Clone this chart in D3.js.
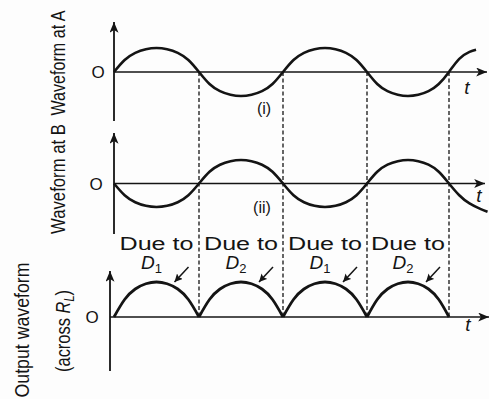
<!DOCTYPE html>
<html>
  <head>
    <title>Full-wave rectifier waveforms</title>
    <style>
      body,
      html {
        margin: 0;
        padding: 0;
        background: #fff;
      }
      svg {
        display: block;
        font-family: 'Liberation Sans', Arial, sans-serif;
      }
    </style>
  </head>
  <body>
    <svg id="svg" width="489" height="399"></svg>

    <script src="https://cdn.jsdelivr.net/npm/d3@7"></script>
    <script>
      // time is counted in half-cycles of the supply, values are relative to the peak
      const crossings = [0, 1, 2, 3, 4];
      const waveA = [
        [0, 0], [0.125, 0.5], [0.25, 0.8], [0.375, 0.95], [0.5, 1], [0.625, 0.95], [0.75, 0.8], [0.875, 0.5],
        [1, 0], [1.125, -0.5], [1.25, -0.8], [1.375, -0.95], [1.5, -1], [1.625, -0.95], [1.75, -0.8], [1.875, -0.5],
        [2, 0], [2.125, 0.5], [2.25, 0.8], [2.375, 0.95], [2.5, 1], [2.625, 0.95], [2.75, 0.8], [2.875, 0.5],
        [3, 0], [3.125, -0.5], [3.25, -0.8], [3.375, -0.95], [3.5, -1], [3.625, -0.95], [3.75, -0.8], [3.875, -0.5],
        [4, 0], [4.125, 0.55], [4.25, 0.84], [4.33, 0.93]
      ];
      const waveB = [
        [0, 0], [0.125, -0.5], [0.25, -0.8], [0.375, -0.95], [0.5, -1], [0.625, -0.95], [0.75, -0.8], [0.875, -0.5],
        [1, 0], [1.125, 0.5], [1.25, 0.8], [1.375, 0.95], [1.5, 1], [1.625, 0.95], [1.75, 0.8], [1.875, 0.5],
        [2, 0], [2.125, -0.5], [2.25, -0.8], [2.375, -0.95], [2.5, -1], [2.625, -0.95], [2.75, -0.8], [2.875, -0.5],
        [3, 0], [3.125, 0.5], [3.25, 0.8], [3.375, 0.95], [3.5, 1], [3.625, 0.95], [3.75, 0.8], [3.875, 0.5],
        [4, 0], [4.125, -0.5], [4.25, -0.85], [4.375, -1.07], [4.47, -1.2]
      ];
      // one rectified half-cycle
      const hump = [[0, 0], [0.125, 0.5], [0.25, 0.8], [0.375, 0.95], [0.5, 1], [0.625, 0.95], [0.75, 0.8], [0.875, 0.5], [1, 0]];
      const outputPeaks = [1, 1, 1, 1];
      const diodes = ['1', '2', '1', '2'];
      const panelNames = ['Waveform at A', 'Waveform at B'];
      const panelTags = ['(i)', '(ii)'];

      const ink = '#141414';
      const svg = d3.select('#svg');
      svg.append('rect').attr('width', 489).attr('height', 399).attr('fill', '#fdfdfd');

      const defs = svg.append('defs');
      defs
        .append('marker')
        .attr('id', 'axisHead')
        .attr('markerUnits', 'userSpaceOnUse')
        .attr('viewBox', '0 0 12 10')
        .attr('refX', 12)
        .attr('refY', 5)
        .attr('markerWidth', 12)
        .attr('markerHeight', 9)
        .attr('orient', 'auto')
        .append('path')
        .attr('d', 'M0,0 L12,5 L0,10 L3,5 Z')
        .attr('fill', ink);
      defs
        .append('marker')
        .attr('id', 'smallHead')
        .attr('markerUnits', 'userSpaceOnUse')
        .attr('viewBox', '0 0 10 10')
        .attr('refX', 10)
        .attr('refY', 5)
        .attr('markerWidth', 8)
        .attr('markerHeight', 8)
        .attr('orient', 'auto')
        .append('path')
        .attr('d', 'M0,0 L10,5 L0,10 L2,5 Z')
        .attr('fill', ink);

      const xScale = d3.scaleLinear().domain(crossings).range([114, 199, 283, 367, 449]);
      const yA = d3.scaleLinear().domain([-1, 1]).range([96, 48]);
      const yB = d3.scaleLinear().domain([-1, 1]).range([207, 160]);
      const yC = d3.scaleLinear().domain([0, 1]).range([317, 282]);

      const lineFor = (y) =>
        d3
          .line()
          .x((d) => xScale(d[0]))
          .y((d) => y(d[1]))
          .curve(d3.curveNatural);

      const drawAxes = (x0, y0, yTop, yBottom, xEnd) => {
        svg
          .append('line')
          .attr('x1', x0)
          .attr('x2', x0)
          .attr('y1', yBottom)
          .attr('y2', yTop)
          .attr('stroke', ink)
          .attr('stroke-width', 1.8)
          .attr('marker-end', 'url(#axisHead)');
        svg
          .append('line')
          .attr('x1', x0)
          .attr('x2', xEnd)
          .attr('y1', y0)
          .attr('y2', y0)
          .attr('stroke', ink)
          .attr('stroke-width', 1.6)
          .attr('marker-end', 'url(#axisHead)');
      };

      // dashed guides through the zero crossings
      svg
        .append('g')
        .selectAll('line')
        .data(crossings.slice(1))
        .join('line')
        .attr('x1', (d) => xScale(d))
        .attr('x2', (d) => xScale(d))
        .attr('y1', yA(0))
        .attr('y2', yC(0))
        .attr('stroke', ink)
        .attr('stroke-width', 1.3)
        .attr('stroke-dasharray', '4,2.5');

      drawAxes(xScale(0), yA(0), 22, 121, 487);
      drawAxes(xScale(0), yB(0), 133, 234, 485);
      drawAxes(xScale(0) - 4, yC(0), 271, 371, 489);

      svg
        .append('path')
        .attr('d', lineFor(yA)(waveA))
        .attr('fill', 'none')
        .attr('stroke', ink)
        .attr('stroke-width', 2.6);
      svg
        .append('path')
        .attr('d', lineFor(yB)(waveB))
        .attr('fill', 'none')
        .attr('stroke', ink)
        .attr('stroke-width', 2.6);

      svg
        .append('g')
        .selectAll('path')
        .data(outputPeaks)
        .join('path')
        .attr('d', (p, i) => lineFor(yC)(hump.map((h) => [i + h[0], p * h[1]])))
        .attr('fill', 'none')
        .attr('stroke', ink)
        .attr('stroke-width', 2.8);

      // origin and time labels
      const small = (x, y, txt, size, italic) =>
        svg
          .append('text')
          .attr('x', x)
          .attr('y', y)
          .attr('text-anchor', 'middle')
          .attr('font-size', size)
          .attr('font-style', italic ? 'italic' : 'normal')
          .attr('fill', ink)
          .text(txt);

      small(98, yA(0) + 6, 'O', 17);
      small(96, yB(0) + 6, 'O', 17);
      small(92, yC(0) + 6, 'O', 17);
      small(467, 94, 't', 19, true);
      small(479, 202, 't', 19, true);
      small(468, 331, 't', 19, true);
      small(264, 114, panelTags[0], 16);
      small(262, 213, panelTags[1], 16);

      // "Due to" annotations
      const notes = svg.append('g').selectAll('g').data(diodes).join('g');
      notes
        .append('text')
        .attr('x', (d, i) => xScale(i + 0.5))
        .attr('y', 250)
        .attr('text-anchor', 'middle')
        .attr('font-size', 18)
        .attr('textLength', 74)
        .attr('lengthAdjust', 'spacingAndGlyphs')
        .attr('fill', ink)
        .text('Due to');
      const dl = notes
        .append('text')
        .attr('x', (d, i) => xScale(i + 0.5) - 5)
        .attr('y', 269)
        .attr('text-anchor', 'middle')
        .attr('font-size', 19)
        .attr('fill', ink);
      dl.append('tspan').attr('font-style', 'italic').text('D');
      dl.append('tspan').attr('font-size', 13).attr('dy', 4).text((d) => d);
      notes
        .append('line')
        .attr('x1', (d, i) => xScale(i + 0.5) + 32)
        .attr('y1', 267)
        .attr('x2', (d, i) => xScale(i + 0.5) + 18)
        .attr('y2', 282)
        .attr('stroke', ink)
        .attr('stroke-width', 1.5)
        .attr('marker-end', 'url(#smallHead)');

      // rotated side labels, squeezed along their length like the condensed print
      const side = (x, y, size, len, fill) => {
        const t = svg
          .append('text')
          .attr('text-anchor', 'middle')
          .attr('font-size', size)
          .attr('fill', ink);
        fill(t);
        const w = t.node().getComputedTextLength();
        t.attr('transform', `translate(${x},${y}) rotate(-90) scale(${len / w},1)`);
        return t;
      };

      side(65, 63, 21, 105, (t) => t.text(panelNames[0]));
      side(65, 179, 21, 110, (t) => t.text(panelNames[1]));
      side(29, 330, 21, 135, (t) => t.text('Output  waveform'));
      side(70, 331, 21, 82, (t) => {
        t.append('tspan').text('(across ');
        t.append('tspan').attr('font-style', 'italic').text('R');
        t.append('tspan').attr('font-size', 14).attr('dy', 4).attr('font-style', 'italic').text('L');
        t.append('tspan').attr('dy', -4).text(')');
      });
    </script>
  </body>
</html>
